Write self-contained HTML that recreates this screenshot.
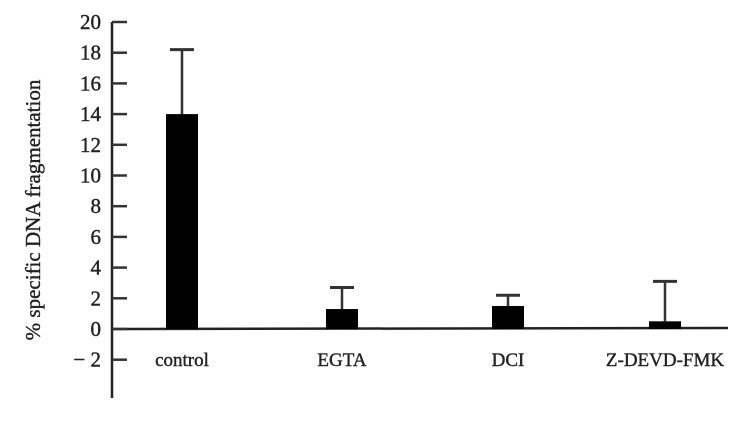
<!DOCTYPE html>
<html><head><meta charset="utf-8"><style>
body{margin:0;background:#fff;}
svg text{font-family:"Liberation Serif",serif;fill:#222;stroke:#222;stroke-width:0.4;}
</style></head><body>
<svg id="chart" width="752" height="418" viewBox="0 0 752 418" xmlns="http://www.w3.org/2000/svg">
<g id="axes"></g><g id="bars"></g>
<text transform="translate(40,210) rotate(-90)" text-anchor="middle" font-size="21">% specific DNA fragmentation</text>
</svg>
<script>
const categories=["control","EGTA","DCI","Z-DEVD-FMK"];
const values=[14,1.3,1.5,0.5];
const errorTops=[18.2,2.7,2.2,3.1];
const yTicks=[-2,0,2,4,6,8,10,12,14,16,18,20];
const tickLabels=["\u2212 2","0","2","4","6","8","10","12","14","16","18","20"];
const NS="http://www.w3.org/2000/svg";
const y0=329,ppu=15.35,axX=112;
const y=v=>y0-v*ppu;
const centers=[182,342,508,665];
const x=i=>centers[i];
function mk(t,a,p){const e=document.createElementNS(NS,t);for(const k in a)e.setAttribute(k,a[k]);p.appendChild(e);return e;}
const ax=document.getElementById('axes'),bg=document.getElementById('bars');
const ya=mk('line',{x1:axX,y1:y(20),x2:axX,y2:398,stroke:'#222','stroke-width':2.5},ax);


const xa=mk('line',{x1:axX,y1:y0,x2:728,y2:y0-1,stroke:'#222','stroke-width':2.5},ax);


yTicks.forEach((v,i)=>{
 const t=mk('line',{x1:axX,y1:y(v),x2:127,y2:y(v),stroke:'#333','stroke-width':2.5},ax);
 
 
 const l=mk('text',{x:101,y:y(v)+7,'text-anchor':'end','font-size':21},ax);
 l.textContent=tickLabels[i];
 
 
});
categories.forEach((c,i)=>{
 const cx=x(i),w=32;
 const e=mk('line',{x1:cx,y1:y(values[i]),x2:cx,y2:y(errorTops[i]),stroke:'#333','stroke-width':2.5},bg);
 
 
 const cap=mk('line',{x1:cx-12,y1:y(errorTops[i]),x2:cx+12,y2:y(errorTops[i]),stroke:'#333','stroke-width':3},bg);
 
 
 const b=mk('rect',{x:cx-w/2,y:y(values[i]),width:w,height:y0-y(values[i]),fill:'#000'},bg);
 
 
 const l=mk('text',{x:cx,y:366,'text-anchor':'middle','font-size':19},bg);
 l.textContent=c;
 
 
});
</script>
</body></html>
